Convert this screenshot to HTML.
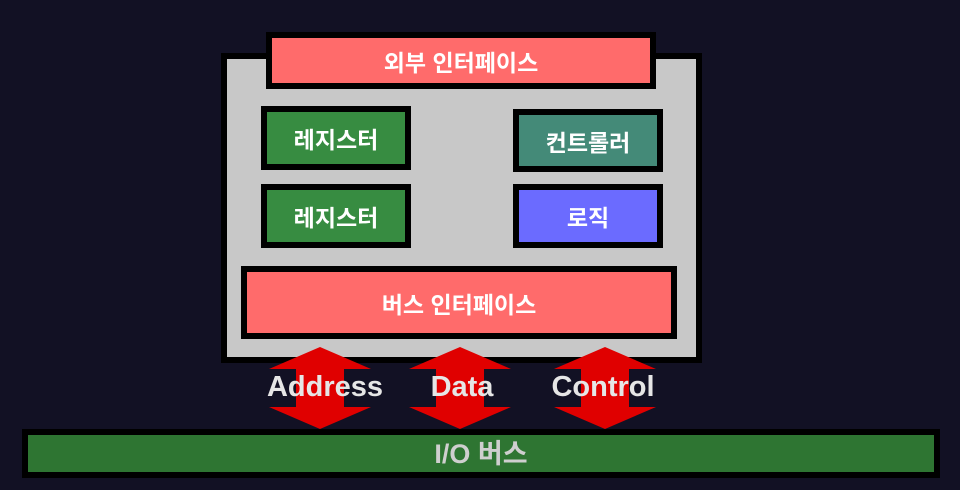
<!DOCTYPE html>
<html><head><meta charset="utf-8"><style>
body{margin:0;width:960px;height:490px;background:#121124;position:relative;overflow:hidden;font-family:"Liberation Sans","Noto Sans CJK KR",sans-serif;font-weight:bold}
.b{position:absolute;box-sizing:border-box;border:6px solid #000;display:flex;align-items:center;justify-content:center;color:#fff;font-size:23px}
.t{position:absolute;color:#e6e6e6;font-size:29px;font-weight:bold;transform:translateX(-50%);top:371px}
</style></head><body>
<div class="b" style="left:221px;top:53px;width:481px;height:310px;background:#c8c8c8"></div>
<div class="b" style="left:266px;top:32px;width:390px;height:57px;background:#ff6b6b">외부 인터페이스</div>
<div class="b" style="left:261px;top:106px;width:150px;height:64px;background:#378c41">레지스터</div>
<div class="b" style="left:261px;top:184px;width:150px;height:64px;background:#378c41">레지스터</div>
<div class="b" style="left:513px;top:109px;width:150px;height:63px;background:#448a78">컨트롤러</div>
<div class="b" style="left:513px;top:184px;width:150px;height:64px;background:#6b6bff">로직</div>
<div class="b" style="left:241px;top:266px;width:436px;height:73px;background:#ff6b6b">버스 인터페이스</div>
<svg style="position:absolute;left:0;top:0" width="960" height="490">
<g fill="#e00000">
<polygon points="320,347 371,369 344,369 344,407 371,407 320,429 269,407 296,407 296,369 269,369"/>
<polygon points="460,347 511,369 484,369 484,407 511,407 460,429 409,407 436,407 436,369 409,369"/>
<polygon points="605,347 656,369 629,369 629,407 656,407 605,429 554,407 581,407 581,369 554,369"/>
</g></svg>
<div class="t" style="left:325px">Address</div>
<div class="t" style="left:462px">Data</div>
<div class="t" style="left:603px">Control</div>
<div class="b" style="left:22px;top:429px;width:918px;height:49px;background:#2e7532;color:#cfcfcf;font-size:27px;padding-bottom:4px">I/O 버스</div>
</body></html>
